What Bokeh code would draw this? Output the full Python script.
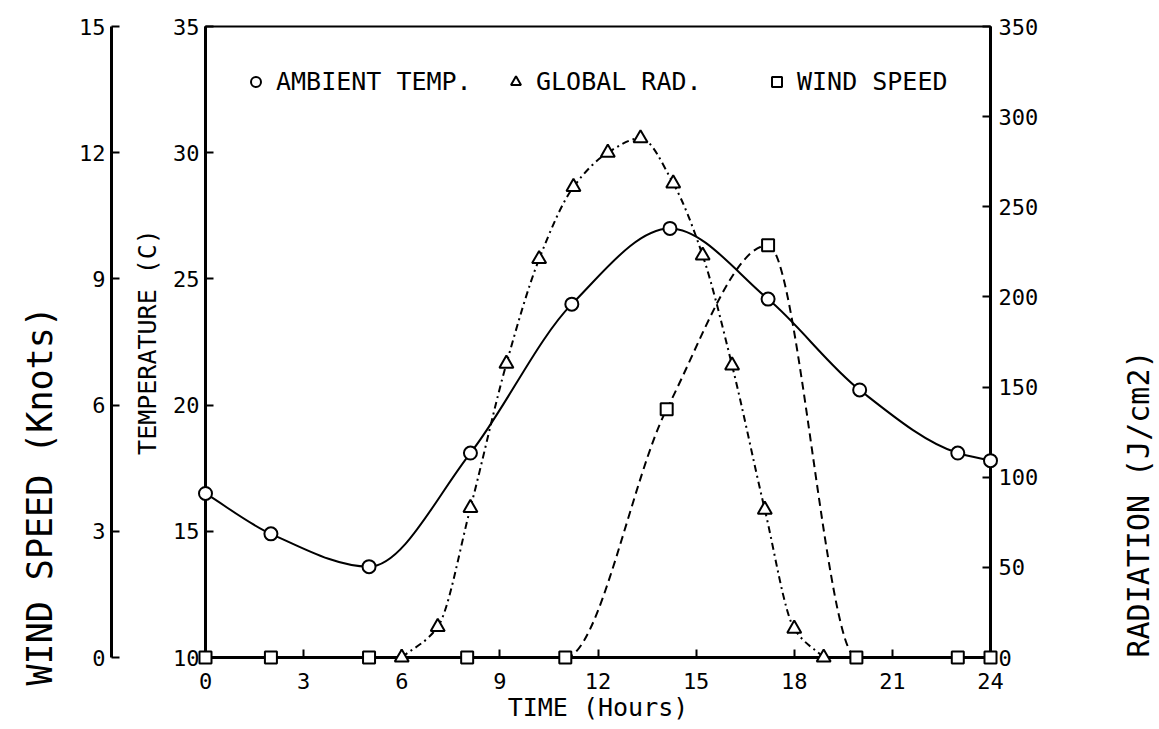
import math
from bokeh.plotting import figure
from bokeh.layouts import row
from bokeh.models import Range1d, LinearAxis, FixedTicker, Legend, LegendItem, Title, Label
from bokeh.embed import file_html
from bokeh.resources import INLINE

# ---------------- data ----------------
time_ticks = [0, 3, 6, 9, 12, 15, 18, 21, 24]
temp_ticks = [10, 15, 20, 25, 30, 35]
wind_ticks = [0, 3, 6, 9, 12, 15]
rad_ticks = [0, 50, 100, 150, 200, 250, 300, 350]

temp_hours = [0, 2, 5, 8.1, 11.2, 14.2, 17.2, 20, 23, 24]
ambient_temp = [16.5, 14.9, 13.6, 18.1, 24.0, 27.0, 24.2, 20.6, 18.1, 17.8]

rad_hours = [6.0, 7.1, 8.1, 9.2, 10.2, 11.25, 12.3, 13.3, 14.3, 15.2, 16.1, 17.1, 18.0, 18.9]
global_rad = [0, 17, 83, 163, 221, 261, 280, 288, 263, 223, 162, 82, 16, 0]

wind_hours = [0, 2, 5, 8, 11, 14.1, 17.2, 19.9, 23, 24]
wind_speed = [0, 0, 0, 0, 0, 5.9, 9.8, 0, 0, 0]

FONT = "DejaVu Sans Mono"


def pchip_tangents(x, y):
    n = len(x)
    h = [x[i + 1] - x[i] for i in range(n - 1)]
    d = [(y[i + 1] - y[i]) / h[i] for i in range(n - 1)]
    m = [0.0] * n
    m[0] = d[0]
    m[-1] = d[-1]
    for k in range(1, n - 1):
        if d[k - 1] * d[k] <= 0:
            m[k] = 0.0
        else:
            w1 = 2 * h[k] + h[k - 1]
            w2 = h[k] + 2 * h[k - 1]
            m[k] = (w1 + w2) / (w1 / d[k - 1] + w2 / d[k])
    return m


def bezier_parts(x, y):
    m = pchip_tangents(x, y)
    out = dict(x0=[], y0=[], x1=[], y1=[], cx0=[], cy0=[], cx1=[], cy1=[])
    for k in range(len(x) - 1):
        hk = x[k + 1] - x[k]
        out["x0"].append(x[k]); out["y0"].append(y[k])
        out["x1"].append(x[k + 1]); out["y1"].append(y[k + 1])
        out["cx0"].append(x[k] + hk / 3); out["cy0"].append(y[k] + m[k] * hk / 3)
        out["cx1"].append(x[k + 1] - hk / 3); out["cy1"].append(y[k + 1] - m[k + 1] * hk / 3)
    return out


p = figure(width=1120, height=729, x_range=Range1d(0, 24), y_range=Range1d(10, 35),
           output_backend="svg", toolbar_location=None,
           min_border_left=205, min_border_right=130, min_border_top=26, min_border_bottom=72,
           background_fill_color="white", border_fill_color="white")
p.extra_y_ranges = {"wind": Range1d(0, 15), "rad": Range1d(0, 350)}
p.grid.visible = False
p.outline_line_color = "black"
p.outline_line_width = 2


def style(ax, ticks, label_size="22px"):
    ax.ticker = FixedTicker(ticks=ticks)
    ax.minor_tick_line_color = None
    ax.major_tick_in = 8
    ax.major_tick_out = 0
    ax.axis_line_width = 3
    ax.axis_line_color = "black"
    ax.major_tick_line_width = 2
    ax.major_tick_line_color = "black"
    ax.major_label_text_font = FONT
    ax.major_label_text_font_size = label_size
    ax.major_label_text_color = "black"
    ax.axis_label_text_font = FONT
    ax.axis_label_text_font_style = "normal"
    ax.axis_label_text_color = "black"


# x axis
xa = p.xaxis[0]
style(xa, time_ticks)
xa.axis_label = "TIME (Hours)"
xa.axis_label_text_font_size = "25px"
xa.major_label_standoff = 15
xa.axis_label_standoff = 1

# temperature axis (inner left)
ta = p.yaxis[0]
style(ta, temp_ticks)
ta.axis_label = "TEMPERATURE (C)"
ta.axis_label_text_font_size = "25px"
ta.major_label_standoff = 6
ta.axis_label_standoff = 8

# spacer between the two left axes
p.add_layout(Title(text=" ", text_font_size="16px", standoff=0), "left")

# wind speed axis (outer left)
wa = LinearAxis(y_range_name="wind")
style(wa, wind_ticks)
wa.major_label_standoff = 6
p.add_layout(wa, "left")

# wind speed axis title, further out on the left
p.add_layout(Title(text="WIND SPEED (Knots)", align="left", offset=-28, standoff=33,
                   text_font=FONT, text_font_size="35px", text_font_style="normal",
                   text_color="black"), "left")

# radiation axis (right)
ra = LinearAxis(y_range_name="rad")
style(ra, rad_ticks)
ra.major_label_standoff = 8
p.add_layout(ra, "right")

# curves
bt = bezier_parts(temp_hours, ambient_temp)
p.bezier(line_color="black", line_width=2, **bt)
br = bezier_parts(rad_hours, global_rad)
p.bezier(line_color="black", line_width=2, line_dash="7 4 2 4", y_range_name="rad", **br)
bw = bezier_parts(wind_hours, wind_speed)
p.bezier(line_color="black", line_width=2, line_dash="8 5", y_range_name="wind", **bw)

# markers
r_temp = p.scatter(temp_hours, ambient_temp, marker="circle", size=13, line_color="black",
                   line_width=2, fill_color="white", level="overlay")
r_rad = p.scatter(rad_hours, global_rad, marker="triangle", size=14, line_color="black",
                  line_width=2, fill_color="white", y_range_name="rad", level="overlay")
r_wind = p.scatter(wind_hours, wind_speed, marker="square", size=12, line_color="black",
                   line_width=2, fill_color="white", y_range_name="wind", level="overlay")


def make_legend(label, rend, loc):
    lg = Legend(items=[LegendItem(label=label, renderers=[rend])], location=loc,
                orientation="horizontal", border_line_color=None, background_fill_alpha=0,
                padding=0, margin=0, spacing=0, glyph_width=25, glyph_height=25,
                label_standoff=8, label_text_font=FONT, label_text_font_size="25px",
                label_text_color="black")
    p.add_layout(lg)


make_legend("AMBIENT TEMP.", r_temp, (38, 561))
make_legend("GLOBAL RAD.", r_rad, (298, 561))
make_legend("WIND SPEED", r_wind, (559, 561))

# narrow strip on the right carrying the radiation axis title (reads upward)
p2 = figure(width=39, height=729, x_range=Range1d(0, 1), y_range=Range1d(0, 1),
            x_axis_type=None, y_axis_type=None, output_backend="svg", toolbar_location=None,
            min_border=0, background_fill_color="white", border_fill_color="white")
p2.grid.visible = False
p2.outline_line_color = None
p2.add_layout(Label(x=18, y=0, x_units="screen", y_units="screen", angle=math.pi / 2,
                    text="RADIATION (J/cm2)", text_font=FONT, text_font_size="30px",
                    text_align="left", text_baseline="middle", text_color="black"))

layout = row(p, p2, spacing=0)
open("out.html", "w").write(file_html(layout, INLINE))
